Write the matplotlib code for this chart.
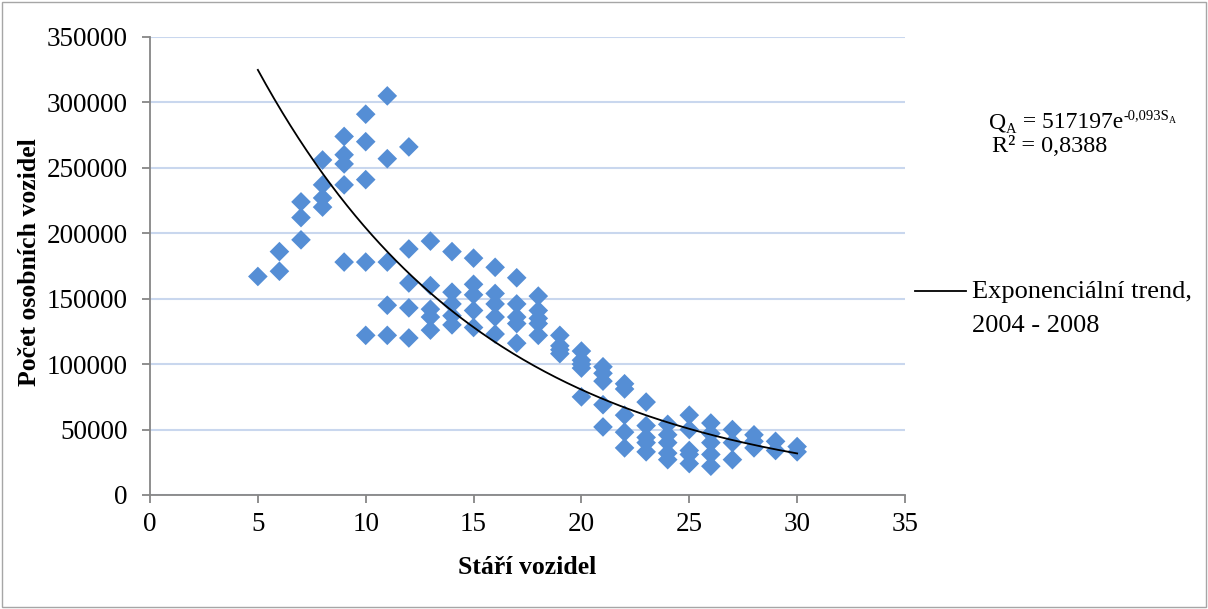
import numpy as np
import matplotlib
matplotlib.use("Agg")
import matplotlib.pyplot as plt
from matplotlib.patches import Rectangle
from matplotlib.lines import Line2D

plt.rcParams['font.family'] = ['Liberation Serif', 'DejaVu Serif']

# Data: vehicle age -> counts of passenger cars
ages = [5, 6, 6, 7, 7, 7, 8, 8, 8, 8,
        9, 9, 9, 9, 9,
        10, 10, 10, 10, 10,
        11, 11, 11, 11, 11,
        12, 12, 12, 12, 12,
        13, 13, 13, 13, 13,
        14, 14, 14, 14, 14,
        15, 15, 15, 15, 15,
        16, 16, 16, 16, 16,
        17, 17, 17, 17, 17,
        18, 18, 18, 18, 18,
        19, 19, 19, 19,
        20, 20, 20, 20, 20,
        21, 21, 21, 21, 21,
        22, 22, 22, 22, 22,
        23, 23, 23, 23, 23,
        24, 24, 24, 24, 24,
        25, 25, 25, 25, 25,
        26, 26, 26, 26, 26,
        27, 27, 27,
        28, 28, 28,
        29, 29,
        30, 30]
counts = [167000, 186000, 171000, 224000, 212000, 195000, 256000, 237000, 227000, 220000,
          274000, 260000, 253000, 237000, 178000,
          291000, 270000, 241000, 178000, 122000,
          305000, 257000, 178000, 145000, 122000,
          266000, 188000, 162000, 143000, 120000,
          194000, 160000, 142000, 136000, 126000,
          186000, 155000, 146000, 137000, 130000,
          181000, 161000, 153000, 141000, 128000,
          174000, 154000, 146000, 136000, 123000,
          166000, 146000, 136000, 131000, 116000,
          152000, 141000, 135000, 131000, 122000,
          122000, 114000, 111000, 108000,
          110000, 103000, 100000, 97000, 75000,
          98000, 93000, 87000, 69000, 52000,
          85000, 81000, 61000, 48000, 36000,
          71000, 53000, 44000, 40000, 33000,
          54000, 46000, 40000, 32000, 27000,
          61000, 50000, 34000, 31000, 24000,
          55000, 47000, 40000, 31000, 22000,
          50000, 40000, 27000,
          46000, 41000, 36000,
          41000, 34000,
          37000, 33000]

# Exponential trend coefficients (from chart equation)
trend_a = 517197
trend_b = -0.093
trend_range = [5, 30]

x_ticks = [0, 5, 10, 15, 20, 25, 30, 35]
y_ticks = [0, 50000, 100000, 150000, 200000, 250000, 300000, 350000]

W, H = 1208, 609
fig = plt.figure(figsize=(W/100, H/100), dpi=100)
ax = fig.add_axes([150/W, 1 - 495/H, (905-150)/W, (495-37)/H])

grid_c = '#C9D7EE'
spine_c = '#868686'

ax.scatter(ages, counts, marker='D', s=100, color='#558ED5', edgecolors='none', zorder=3)
xt = np.linspace(trend_range[0], trend_range[1], 200)
ax.plot(xt, trend_a * np.exp(trend_b * xt), color='black', lw=1.3, zorder=4)

ax.set_xlim(0, 35)
ax.set_ylim(0, 350000)
ax.set_xticks(x_ticks)
ax.set_yticks(y_ticks)
ax.set_xticklabels([str(v) for v in x_ticks], fontsize=19.5)
ax.set_yticklabels([str(v) for v in y_ticks], fontsize=19.5)
ax.yaxis.grid(True, color=grid_c, lw=1.5, zorder=0)
ax.set_axisbelow(True)
for s in ['top', 'right']:
    ax.spines[s].set_visible(False)
for s in ['left', 'bottom']:
    ax.spines[s].set_color(spine_c)
    ax.spines[s].set_linewidth(1.3)
ax.tick_params(axis='both', direction='out', length=6, width=1.3, color=spine_c)
ax.tick_params(axis='y', pad=10)
ax.tick_params(axis='x', pad=6)

fig.text(527/W, 1 - 567/H, 'Stáří vozidel', fontsize=18.5, fontweight='bold',
         ha='center', va='center')
fig.text(30/W, 1 - 262/H, 'Počet osobních vozidel', fontsize=18.5, fontweight='bold',
         ha='center', va='center', rotation=90)

# Equation built from pieces: (text, fontsize, baseline offset in px)
renderer = fig.canvas.get_renderer()
eq_pieces = [('Q', 17, 0), ('A', 10.5, -5), (' = 517197e', 17, 0),
             ('-0,093S', 10.5, 9), ('A', 7, 5)]
x_px = 989
base_px = 128  # baseline from top
for txt, fs, dy in eq_pieces:
    t = fig.text(x_px / W, 1 - (base_px - dy) / H, txt, fontsize=fs,
                 ha='left', va='baseline')
    bb = t.get_window_extent(renderer)
    x_px += bb.width
fig.text(1050/W, 1 - 147/H, 'R² = 0,8388', fontsize=17.5, ha='center', va='center')

# Legend
fig.add_artist(Line2D([915/W, 966/W], [1 - 291/H, 1 - 291/H],
                      color='black', lw=1.3, transform=fig.transFigure))
fig.text(972/W, 1 - 292/H, 'Exponenciální trend,', fontsize=19, ha='left', va='center')
fig.text(972/W, 1 - 326/H, '2004 - 2008', fontsize=19, ha='left', va='center')

# Outer border
fig.add_artist(Rectangle((0.002, 0.004), 0.996, 0.992, fill=False, edgecolor='#A6A6A6',
                         lw=1.0, transform=fig.transFigure))

fig.savefig('out.png', dpi=100)
